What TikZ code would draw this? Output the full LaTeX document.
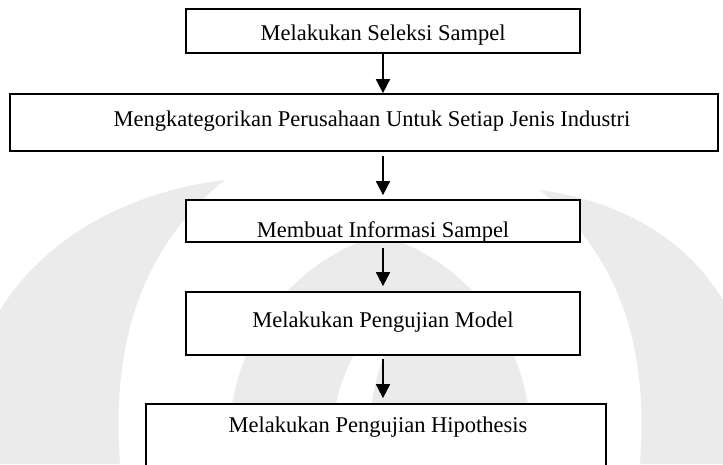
\documentclass[tikz,border=0pt]{standalone}
\usepackage{fontspec}
\setmainfont{Liberation Serif}
\usetikzlibrary{arrows.meta}
\definecolor{wm}{HTML}{EBEBEB}
\begin{document}
\begin{tikzpicture}[x=1pt,y=-1pt,
  box/.style={draw=black, fill=white, line width=1.7pt, inner sep=0pt, rectangle},
  lbl/.style={anchor=base, inner sep=0pt, font=\fontsize{22.5}{27}\selectfont},
  arr/.style={draw=black, line width=1.6pt, -{Triangle[width=14pt,length=14pt]}},
  wmark/.style={fill=wm, draw=none}
]
\clip (0,0) rectangle (723,464);
\fill[white] (0,0) rectangle (723,464);
% faint watermark (background logo)
\path[wmark] (0,310) .. controls (50,230) and (140,190) .. (225,180)
  .. controls (150,240) and (110,330) .. (120,464) -- (0,464) -- cycle;
\path[wmark] (230,464) .. controls (220,350) and (290,260) .. (380,235)
  .. controls (470,260) and (540,350) .. (530,464) -- cycle;
\path[wmark] (723,300) .. controls (680,230) and (610,200) .. (540,190)
  .. controls (610,250) and (650,330) .. (640,464) -- (723,464) -- cycle;
\path[fill=white] (330,464) .. controls (330,380) and (360,320) .. (420,300)
  .. controls (380,340) and (365,400) .. (370,464) -- cycle;
% boxes
\node[box, minimum width=394pt, minimum height=44pt] (b1) at (383,31) {};
\node[box, minimum width=708pt, minimum height=57pt] (b2) at (364,122.5) {};
\node[box, minimum width=394pt, minimum height=42pt] (b3) at (383,221) {};
\node[box, minimum width=394pt, minimum height=63pt] (b4) at (383,323.5) {};
\node[box, minimum width=460pt, minimum height=86pt] (b5) at (376,447) {};
% texts
\node[lbl] (t1) at (383,40) {Melakukan Seleksi Sampel};
\node[lbl] (t2) at (372,126) {Mengkategorikan Perusahaan Untuk Setiap Jenis Industri};
\node[lbl] (t3) at (383,237) {Membuat Informasi Sampel};
\node[lbl] (t4) at (383,327) {Melakukan Pengujian Model};
\node[lbl] (t5) at (378,432) {Melakukan Pengujian Hipothesis};
% arrows
\draw[arr] (b1.south) -- (b1.south |- b2.north);
\draw[arr, shorten <=4pt, shorten >=4pt] (b1.south |- b2.south) -- (b3.north);
\draw[arr, shorten <=5pt, shorten >=5pt] (b3.south) -- (b4.north);
\draw[arr, shorten <=3pt, shorten >=5pt] (b4.south) -- (b4.south |- b5.north);
\end{tikzpicture}
\end{document}
